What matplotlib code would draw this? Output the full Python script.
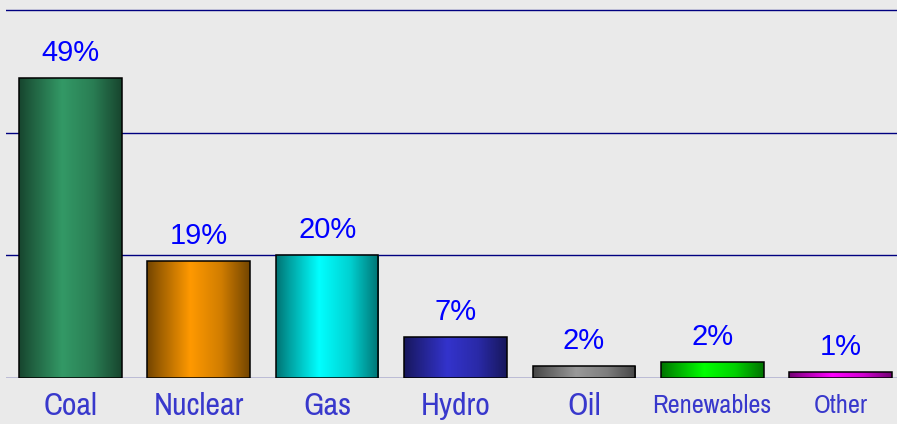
import numpy as np
import matplotlib.pyplot as plt
from matplotlib.colors import to_rgb

categories = ["Coal", "Nuclear", "Gas", "Hydro", "Oil", "Renewables", "Other"]
shares = [49.0, 19.1, 20.1, 6.7, 2.0, 2.6, 1.0]
share_labels = ["49%", "19%", "20%", "7%", "2%", "2%", "1%"]
bar_colors = ["#339966", "#FF9900", "#00FFFF", "#3333CC", "#999999", "#00FF00", "#FF00FF"]
label_sizes = [23, 23, 23, 23, 23, 19, 19]

bg = "#EAEAEA"
fig = plt.figure(figsize=(8.97, 4.24), dpi=100, facecolor=bg)
ax = fig.add_axes([0.007, 0.1085, 1.0016, 0.874])
ax.set_facecolor(bg)

# horizontal shading profile for the "cylinder" look
t = np.linspace(0, 1, 200)
shade = np.interp(t, [0, 0.12, 0.42, 0.72, 1], [0.45, 0.62, 1.0, 0.82, 0.45])

x = np.arange(len(categories))
bars = ax.bar(x, shares, width=0.8, color="none", edgecolor="black",
              linewidth=1.1, zorder=3)

for bar, col in zip(bars, bar_colors):
    rgb = np.array(to_rgb(col))
    img = (shade[:, None] * rgb[None, :])[None, :, :]
    x0, y0 = bar.get_x(), bar.get_y()
    w, h = bar.get_width(), bar.get_height()
    im = ax.imshow(img, extent=[x0, x0 + w, y0, y0 + h], aspect="auto",
                   interpolation="bilinear", zorder=2)
    im.set_clip_path(bar)

for xi, val, lab in zip(x, shares, share_labels):
    ax.annotate(lab, xy=(xi, val), xytext=(0, 12), textcoords="offset points",
                ha="center", va="baseline", fontsize=21, color="#0000FF",
                family=["Liberation Sans", "DejaVu Sans"])

for xi, cat, fs in zip(x, categories, label_sizes):
    off = -26.5 if fs > 20 else -25.5
    ax.annotate(cat, xy=(xi, 0), xytext=(0, off), textcoords="offset points",
                ha="center", va="baseline", fontsize=fs, color="#3838CC",
                family=["Archivo Narrow", "Liberation Sans", "DejaVu Sans"],
                annotation_clip=False)

ax.set_xlim(-0.5, len(categories) - 0.5)
ax.set_ylim(0, 60.5)
for yv in [0, 20, 40, 60]:
    ax.axhline(yv, color="#000080", linewidth=1.0, zorder=1)

ax.set_xticks([])
ax.set_yticks([])
for s in ax.spines.values():
    s.set_visible(False)

fig.savefig("out.png", dpi=100, facecolor=bg)
